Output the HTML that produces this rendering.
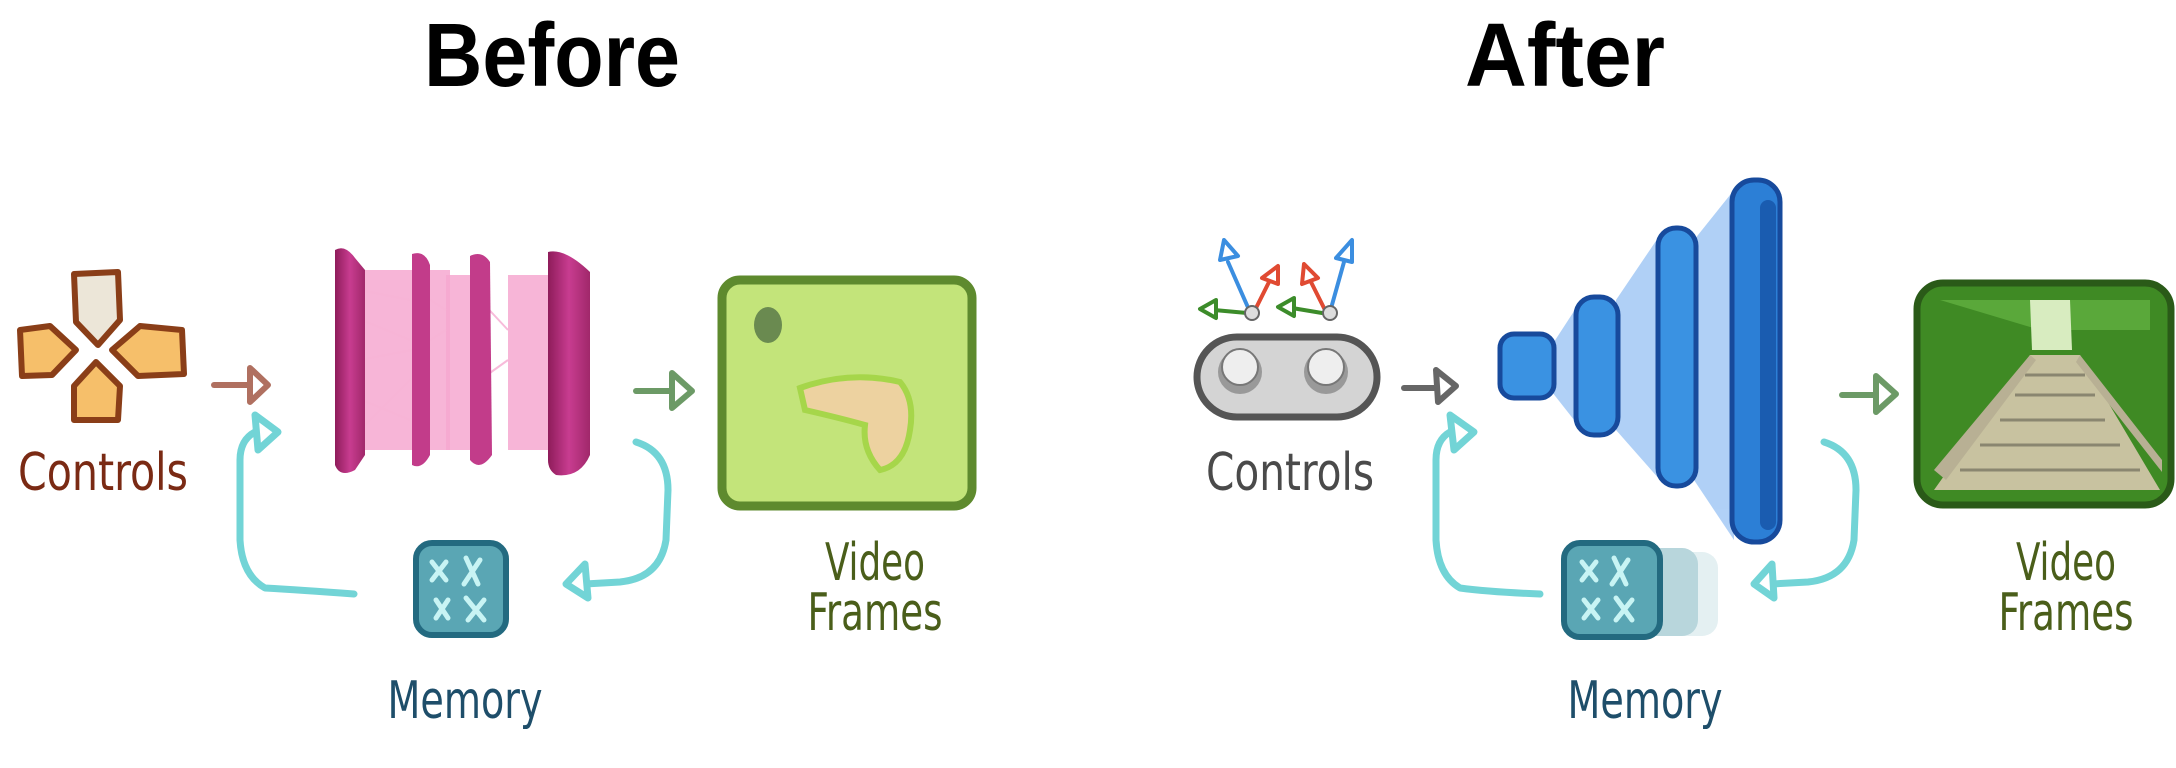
<!DOCTYPE html>
<html><head><meta charset="utf-8"><style>
html,body{margin:0;padding:0;background:#fff;}
svg{display:block;}
.t{font-family:"Liberation Sans",sans-serif;font-weight:bold;font-size:90px;fill:#000;text-anchor:middle;}
.h{font-family:"Liberation Sans Narrow","DejaVu Sans Condensed","Liberation Sans",sans-serif;font-size:52px;text-anchor:middle;}
</style></head><body>
<svg width="2176" height="768" viewBox="0 0 2176 768" xmlns="http://www.w3.org/2000/svg">
<defs>
<linearGradient id="pk" x1="0" x2="1"><stop offset="0" stop-color="#8e1c5a"/><stop offset=".5" stop-color="#c83c90"/><stop offset="1" stop-color="#a0286a"/></linearGradient>
</defs>
<text class="t" x="552" y="86" textLength="256" lengthAdjust="spacingAndGlyphs">Before</text>
<text class="t" x="1565" y="86" textLength="200" lengthAdjust="spacingAndGlyphs">After</text>

<!-- BEFORE: dpad -->
<g stroke="#8a3e18" stroke-width="6" stroke-linejoin="round">
<path d="M74 274 L118 272 L120 320 L98 345 L76 322 Z" fill="#ece6d8"/>
<path d="M20 330 L50 326 L76 350 L52 375 L22 376 Z" fill="#f6bf6a"/>
<path d="M112 350 L140 326 L182 330 L184 374 L138 376 Z" fill="#f6bf6a"/>
<path d="M96 362 L120 386 L118 420 L74 420 L74 386 Z" fill="#f6bf6a"/>
</g>
<text class="h" x="103" y="490" fill="#7a2a14" textLength="170" lengthAdjust="spacingAndGlyphs">Controls</text>
<!-- pink arrow -->
<g stroke="#b07060" stroke-width="6" fill="none" stroke-linecap="round" stroke-linejoin="round">
<path d="M214 385 L248 385"/><path d="M250 368 L268 385 L250 402 Z" fill="#fff"/>
</g>
<!-- pink network -->
<g>
<rect x="360" y="270" width="90" height="180" fill="#f6a8d0" opacity=".85"/>
<rect x="446" y="275" width="30" height="175" fill="#f6a8d0" opacity=".85"/>
<rect x="508" y="275" width="40" height="175" fill="#f6a8d0" opacity=".85"/>
<g stroke="#f7b4d6" stroke-width="2" opacity=".9">
<path d="M360 290 L410 300 M362 320 L410 340 M360 360 L412 350 M362 400 L410 420 M360 430 L410 380 M415 290 L446 310 M415 350 L446 330 M480 300 L508 330 M480 380 L508 360 M548 300 L575 340 M548 400 L575 380"/>
</g>
<path d="M335 250 Q345 244 355 258 L365 270 L365 455 L355 470 Q340 478 335 465 Z" fill="url(#pk)"/>
<path d="M412 254 Q425 250 430 265 L430 455 Q422 470 412 465 Z" fill="#c23c8a"/>
<path d="M470 256 Q482 250 490 262 L492 455 Q480 472 470 460 Z" fill="#c23c8a"/>
<path d="M548 252 Q565 248 590 272 L590 455 Q580 478 556 475 Q548 470 548 460 Z" fill="url(#pk)"/>
</g>
<!-- green arrow -->
<g stroke="#6c9a66" stroke-width="6" fill="none" stroke-linecap="round" stroke-linejoin="round">
<path d="M636 391 L672 391"/><path d="M672 373 L692 391 L672 408 Z" fill="#fff"/>
</g>
<!-- green frame -->
<rect x="722" y="280" width="250" height="226" rx="18" fill="#c3e47a" stroke="#5e8a2e" stroke-width="9"/>
<path d="M800 388 Q850 370 900 382 Q915 400 910 430 Q905 465 880 470 Q862 450 865 425 Q840 418 805 410 Z" fill="#edd2a0" stroke="#a6d64a" stroke-width="6"/>
<ellipse cx="768" cy="325" rx="14" ry="18" fill="#6a8a50"/>
<text class="h" x="875" y="580" fill="#4a5e1a" textLength="100" lengthAdjust="spacingAndGlyphs">Video</text>
<text class="h" x="875" y="630" fill="#4a5e1a" textLength="135" lengthAdjust="spacingAndGlyphs">Frames</text>
<!-- memory -->
<rect x="416" y="543" width="90" height="92" rx="16" fill="#5aa6b4" stroke="#236a80" stroke-width="6"/>
<g stroke="#c8f4f4" stroke-width="5" stroke-linecap="round">
<path d="M432 562 L446 580 M446 562 L432 580 M466 558 L478 584 M480 560 L464 584 M436 600 L448 618 M448 600 L436 618 M466 598 L484 620 M484 600 L468 620"/>
</g>
<text class="h" x="465" y="718" fill="#1e4e6a" textLength="155" lengthAdjust="spacingAndGlyphs">Memory</text>
<!-- cyan loops before -->
<g stroke="#72d4d6" stroke-width="7" fill="none" stroke-linecap="round" stroke-linejoin="round">
<path d="M354 594 Q300 590 265 588 Q242 575 240 540 L240 460 Q240 440 255 432"/>
<path d="M255 415 L278 432 L258 450 Z" fill="#fff"/>
<path d="M636 442 Q668 452 668 490 L666 540 Q660 578 620 582 L585 584"/>
<path d="M585 564 L566 584 L588 598 Z" fill="#fff"/>
</g>

<!-- AFTER: controls -->
<g stroke-width="4" fill="none" stroke-linecap="round" stroke-linejoin="round">
<path d="M1250 312 L1228 262" stroke="#3b8ee0"/><path d="M1220 260 L1224 240 L1238 256 Z" stroke="#3b8ee0" fill="#fff"/>
<path d="M1254 312 L1270 280" stroke="#e04a32"/><path d="M1262 278 L1278 266 L1278 284 Z" stroke="#e04a32" fill="#fff"/>
<path d="M1247 313 L1214 310" stroke="#3c8c2a"/><path d="M1216 300 L1200 309 L1216 318 Z" stroke="#3c8c2a" fill="#fff"/>
<path d="M1330 312 L1344 262" stroke="#3b8ee0"/><path d="M1336 258 L1352 240 L1352 262 Z" stroke="#3b8ee0" fill="#fff"/>
<path d="M1326 312 L1310 280" stroke="#e04a32"/><path d="M1302 284 L1304 264 L1318 278 Z" stroke="#e04a32" fill="#fff"/>
<path d="M1322 313 L1292 308" stroke="#3c8c2a"/><path d="M1294 298 L1278 307 L1294 316 Z" stroke="#3c8c2a" fill="#fff"/>
</g>
<circle cx="1252" cy="313" r="7" fill="#ddd" stroke="#666" stroke-width="2"/>
<circle cx="1330" cy="313" r="7" fill="#ddd" stroke="#666" stroke-width="2"/>
<rect x="1197" y="337" width="180" height="80" rx="40" fill="#d4d4d4" stroke="#555" stroke-width="7"/>
<circle cx="1240" cy="372" r="22" fill="#999"/><circle cx="1240" cy="367" r="18" fill="#eee" stroke="#777" stroke-width="2"/>
<circle cx="1326" cy="372" r="22" fill="#999"/><circle cx="1326" cy="367" r="18" fill="#eee" stroke="#777" stroke-width="2"/>
<text class="h" x="1290" y="490" fill="#4a4a4a" textLength="168" lengthAdjust="spacingAndGlyphs">Controls</text>
<g stroke="#666" stroke-width="6" fill="none" stroke-linecap="round" stroke-linejoin="round">
<path d="M1404 388 L1436 388"/><path d="M1436 370 L1456 386 L1438 402 Z" fill="#fff"/>
</g>
<!-- blue network -->
<g fill="#a8ccf6" opacity=".9">
<path d="M1552 345 L1578 305 L1578 425 L1552 392 Z"/>
<path d="M1616 300 L1660 235 L1660 480 L1616 430 Z"/>
<path d="M1694 240 L1734 190 L1734 540 L1694 480 Z"/>
</g>
<rect x="1500" y="334" width="54" height="64" rx="14" fill="#3a92e2" stroke="#174a9c" stroke-width="5"/>
<rect x="1576" y="297" width="42" height="138" rx="18" fill="#3a92e2" stroke="#174a9c" stroke-width="5"/>
<rect x="1658" y="228" width="38" height="258" rx="18" fill="#3a92e2" stroke="#174a9c" stroke-width="5"/>
<rect x="1732" y="180" width="48" height="362" rx="22" fill="#2c7fd6" stroke="#174a9c" stroke-width="5"/>
<rect x="1760" y="200" width="16" height="330" rx="8" fill="#1a5cb0"/>
<g stroke="#6c9a66" stroke-width="6" fill="none" stroke-linecap="round" stroke-linejoin="round">
<path d="M1842 395 L1876 395"/><path d="M1876 376 L1896 394 L1876 412 Z" fill="#fff"/>
</g>
<!-- forest frame -->
<rect x="1917" y="283" width="254" height="222" rx="26" fill="#3f8a24" stroke="#2a5a18" stroke-width="7"/>
<path d="M1940 300 L2150 300 L2150 330 L2040 330 Z" fill="#5aa83a"/>
<path d="M2030 300 L2070 300 L2072 350 L2032 350 Z" fill="#d8ecc0"/>
<path d="M1934 490 L2030 355 L2080 355 L2160 490 Z" fill="#c8c2a0"/>
<g stroke="#8a8670" stroke-width="3"><path d="M1960 470 L2140 470 M1980 445 L2120 445 M2000 420 L2105 420 M2015 395 L2095 395 M2025 375 L2085 375"/></g>
<path d="M1934 470 L2030 355 L2036 360 L1946 480 Z" fill="#b8b094"/>
<path d="M2080 355 L2162 460 L2162 472 L2076 362 Z" fill="#b8b094"/>
<text class="h" x="2066" y="580" fill="#4a5e1a" textLength="100" lengthAdjust="spacingAndGlyphs">Video</text>
<text class="h" x="2066" y="630" fill="#4a5e1a" textLength="135" lengthAdjust="spacingAndGlyphs">Frames</text>
<!-- memory after -->
<rect x="1640" y="552" width="78" height="84" rx="16" fill="#e4f0f2"/>
<rect x="1620" y="548" width="78" height="88" rx="16" fill="#b8d6dc"/>
<rect x="1564" y="543" width="96" height="94" rx="16" fill="#5aa6b4" stroke="#236a80" stroke-width="6"/>
<g stroke="#c8f4f4" stroke-width="5" stroke-linecap="round">
<path d="M1582 562 L1596 580 M1596 562 L1582 580 M1614 558 L1626 584 M1628 560 L1612 584 M1584 600 L1598 618 M1598 600 L1584 618 M1616 598 L1632 620 M1632 600 L1616 620"/>
</g>
<text class="h" x="1645" y="718" fill="#1e4e6a" textLength="155" lengthAdjust="spacingAndGlyphs">Memory</text>
<g stroke="#72d4d6" stroke-width="7" fill="none" stroke-linecap="round" stroke-linejoin="round">
<path d="M1540 594 Q1490 592 1460 588 Q1438 575 1436 540 L1436 460 Q1436 440 1450 432"/>
<path d="M1450 415 L1474 432 L1454 450 Z" fill="#fff"/>
<path d="M1824 442 Q1856 452 1856 490 L1854 540 Q1848 578 1808 582 L1772 584"/>
<path d="M1772 564 L1754 584 L1774 598 Z" fill="#fff"/>
</g>
</svg>
</body></html>
